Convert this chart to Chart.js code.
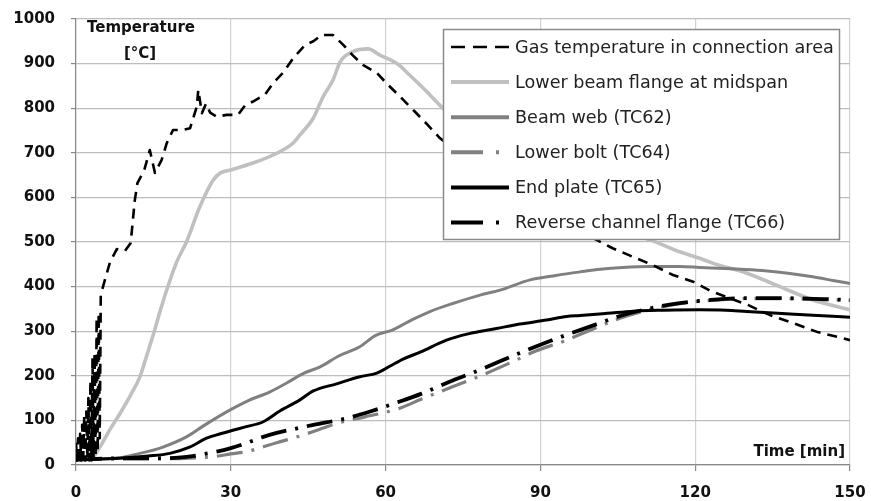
<!DOCTYPE html>
<html>
<head>
<meta charset="utf-8">
<script src="https://cdn.jsdelivr.net/npm/chart.js@4.4.0/dist/chart.umd.min.js"></script>
<style>
  html, body { margin: 0; padding: 0; background: #fff; }
  #wrap { width: 871px; height: 501px; }
</style>
</head>
<body>
<div id="wrap"><canvas id="chart" width="871" height="501"></canvas></div>
<script>
// values (time in min, temperature in °C)
const seriesNames = [
  'Gas temperature in connection area',
  'Lower beam flange at midspan',
  'Beam web (TC62)',
  'Lower bolt (TC64)',
  'End plate (TC65)',
  'Reverse channel flange (TC66)'
];

const xTicks = [0, 30, 60, 90, 120, 150];
const yTicks = [0, 100, 200, 300, 400, 500, 600, 700, 800, 900, 1000];

const gasTime = [0, 0.2, 0.4, 0.6, 0.8, 1.0, 1.2, 1.4, 1.6, 1.8, 2.0, 2.2, 2.4, 2.6, 2.8, 3.0, 3.2, 3.4, 3.6, 3.8, 4.0, 4.2, 4.4, 4.6, 4.8, 5.0,
  5.6, 6.6, 7.9, 9.5, 10.6, 11.4, 11.9, 13.2, 14.3, 15.3, 16.6, 17.6, 18.8, 20.5, 22.1, 23.4, 23.7, 24.4, 25.2, 26, 27.3, 29.2,
  31.4, 32.8, 34.3, 36.6, 38.2, 40.1, 42.1, 44.4, 46, 47.6, 49.8, 51.8, 53.5, 55.6, 58.3, 60.5, 62.8, 65.7, 68.2, 70.5,
  80, 90, 100, 104, 108.7, 111.8, 115.7, 119.6, 123.2, 126.5, 130.2, 134.5, 139, 143.5, 150];
const gasTemp = [50, 10, 60, 5, 70, 10, 90, 15, 110, 10, 120, 15, 150, 10, 190, 10, 240, 15, 250, 20, 330, 30, 340, 60, 380, 390,
  415, 455, 484, 480, 498, 594, 632, 660, 706, 655, 684, 722, 751, 751, 755, 803, 841, 789, 810, 790, 781, 785,
  785, 807, 815, 830, 856, 879, 912, 942, 950, 964, 964, 942, 920, 897, 879, 852, 826, 792, 762, 733,
  650, 575, 510, 486, 463, 448, 426, 411, 389, 375, 359, 336, 318, 299, 280];

const flangeTime = [0, 3, 4.65, 6.6, 8.5, 10.5, 12.4, 13.7, 15, 16.3, 17.6, 19.5, 21.4, 24, 26.6, 28, 29.8, 34.3, 38.9, 42.1,
  43.4, 46, 47.9, 49.8, 51.2, 53.7, 56.6, 58.9, 62.2, 64.7, 68, 71.1, 75, 80, 85, 90, 95, 100, 105, 110, 113, 117, 121,
  123.5, 130, 136.4, 142.8, 150];
const flangeTemp = [15, 15, 41, 80, 115, 155, 198, 245, 293, 345, 393, 455, 500, 579, 639, 655, 661, 677, 699, 722,
  740, 778, 826, 863, 904, 927, 933, 919, 900, 874, 837, 800, 760, 715, 670, 630, 595, 565, 535, 510, 497, 478, 463,
  452, 430, 400, 370, 348];

const webTime = [0, 8.5, 12, 16.3, 21.4, 25, 29.8, 33.5, 37.6, 41, 44, 47.3, 51, 55, 58, 61.4, 65, 68.6, 73, 78.3, 82.2, 88,
  93, 97.7, 101.6, 106, 111.2, 117, 120.9, 127, 133, 138, 142.8, 147, 150];
const webTemp = [12, 16, 25, 38, 63, 90, 123, 145, 164, 185, 205, 220, 245, 265, 290, 303, 325, 344, 362, 381, 392, 415,
  425, 433, 439, 443, 445, 445, 443, 440, 436, 430, 422, 413, 407];

const boltTime = [0, 8.5, 15, 21.4, 26.9, 30, 33, 38.9, 42, 46, 50.5, 56, 62.2, 67, 73.1, 78, 84.7, 89, 94.4, 100, 105.4,
  110, 117, 122, 130, 137, 144.8, 150];
const boltTemp = [12, 14, 14, 15, 19, 25, 30, 50, 60, 75, 93, 108, 125, 148, 176, 198, 232, 255, 277, 304, 329,
  345, 362, 368, 373, 373, 371, 369];

const plateTime = [0, 8.5, 14, 18.2, 22, 25.3, 28, 30.4, 33, 36.3, 39.5, 43.4, 46, 50.5, 55, 58.3, 60.9, 63.5, 66.7, 71.8,
  76, 81.5, 86, 91.2, 95.1, 97.7, 103, 108, 114, 120.9, 126, 130, 136, 142.8, 150];
const plateTemp = [12, 15, 20, 26, 40, 60, 70, 78, 86, 97, 121, 146, 166, 182, 198, 206, 222, 238, 253, 280,
  294, 306, 316, 325, 333, 335, 340, 345, 347, 348, 347, 344, 340, 336, 331];

const channelTime = [0, 8.5, 15, 21.4, 25, 27.3, 30, 33, 36, 38.9, 42, 46, 52.5, 57, 62.2, 67, 73.1, 78, 84.7, 89, 94.4,
  100, 105.4, 110, 117, 123, 130, 137, 144.8, 150];
const channelTemp = [12, 15, 15, 18, 25, 30, 38, 49, 62, 72, 80, 90, 105, 120, 140, 160, 190, 212, 245, 265, 289,
  312, 334, 348, 363, 370, 374, 374, 372, 370];

const pts = (xs, ys) => xs.map((x, i) => ({ x: x, y: ys[i] }));

const FONT = 'DejaVu Sans';

// legend drawn as an opaque box inside the plot, like the original
const boxLegend = {
  id: 'boxLegend',
  afterDraw(chart) {
    const ctx = chart.ctx;
    const bx = 443, by = 29, bw = 397, bh = 211;
    ctx.save();
    ctx.fillStyle = '#ffffff';
    ctx.fillRect(bx, by, bw, bh);
    ctx.strokeStyle = '#8a8a8a';
    ctx.lineWidth = 1.5;
    ctx.strokeRect(bx + 0.5, by + 0.5, bw - 1, bh - 1);
    chart.data.datasets.forEach((ds, i) => {
      const y = by + 18 + i * 35.1;
      ctx.beginPath();
      ctx.setLineDash(ds.legendDash || []);
      ctx.lineCap = 'butt';
      ctx.strokeStyle = ds.borderColor;
      ctx.lineWidth = ds.legendWidth;
      ctx.moveTo(bx + 8, y);
      ctx.lineTo(bx + 66, y);
      ctx.stroke();
      ctx.setLineDash([]);
      ctx.fillStyle = '#222';
      ctx.font = '17.6px "' + FONT + '"';
      ctx.textBaseline = 'middle';
      ctx.textAlign = 'left';
      ctx.fillText(ds.label, bx + 72, y + 1);
    });
    ctx.restore();
  }
};

const axisTitles = {
  id: 'axisTitles',
  afterDraw(chart) {
    const ctx = chart.ctx;
    const a = chart.chartArea;
    ctx.save();
    ctx.fillStyle = '#111';
    ctx.font = 'bold 15px "' + FONT + '"';
    ctx.textBaseline = 'middle';
    ctx.textAlign = 'center';
    ctx.fillText('Temperature', a.left + 65, a.top + 9);
    ctx.fillText('[°C]', a.left + 64, a.top + 35);
    ctx.textAlign = 'right';
    ctx.fillText('Time [min]', a.right - 5, a.bottom - 13);
    ctx.restore();
  }
};

// no extra room for the end labels, the layout padding sets the plot box
const noPad = s => { s.paddingTop = 0; s.paddingBottom = 0; s.paddingLeft = 0; s.paddingRight = 0; };

const dashDot = [26, 9, 3, 9];
const lineStyle = { pointRadius: 0, pointHoverRadius: 0, fill: false, borderCapStyle: 'butt', borderJoinStyle: 'round' };

new Chart(document.getElementById('chart'), {
  type: 'line',
  data: {
    datasets: [
      { ...lineStyle, label: seriesNames[0], data: pts(gasTime, gasTemp), borderColor: '#000000', borderWidth: 2.6,
        borderDash: [10, 7], tension: 0, order: 1, legendDash: [14, 8], legendWidth: 2.6 },
      { ...lineStyle, label: seriesNames[1], data: pts(flangeTime, flangeTemp), borderColor: '#c0c0c0', borderWidth: 3.6,
        cubicInterpolationMode: 'monotone', order: 6, legendWidth: 4 },
      { ...lineStyle, label: seriesNames[2], data: pts(webTime, webTemp), borderColor: '#808080', borderWidth: 3,
        cubicInterpolationMode: 'monotone', order: 5, legendWidth: 4 },
      { ...lineStyle, label: seriesNames[3], data: pts(boltTime, boltTemp), borderColor: '#808080', borderWidth: 3.2,
        borderDash: dashDot, cubicInterpolationMode: 'monotone', order: 4, legendDash: [32, 13, 3, 20], legendWidth: 4 },
      { ...lineStyle, label: seriesNames[4], data: pts(plateTime, plateTemp), borderColor: '#000000', borderWidth: 3,
        cubicInterpolationMode: 'monotone', order: 3, legendWidth: 4 },
      { ...lineStyle, label: seriesNames[5], data: pts(channelTime, channelTemp), borderColor: '#000000', borderWidth: 3.8,
        borderDash: dashDot, cubicInterpolationMode: 'monotone', order: 2, legendDash: [32, 13, 3, 20], legendWidth: 4 }
    ]
  },
  options: {
    responsive: false,
    animation: false,
    events: [],
    layout: { padding: { top: 19, right: 21, left: 0, bottom: 0 } },
    plugins: {
      legend: { display: false },
      tooltip: { enabled: false },
      title: { display: false }
    },
    scales: {
      x: {
        type: 'linear',
        min: xTicks[0],
        max: xTicks[xTicks.length - 1],
        afterBuildTicks: s => { s.ticks = xTicks.map(v => ({ value: v })); },
        afterFit: s => { s.height = 36; noPad(s); },
        ticks: { color: '#111', padding: 13, maxRotation: 0, callback: v => String(v),
          font: { family: FONT, size: 15, weight: 'bold' } },
        grid: { color: '#d2d2d2', lineWidth: 1.2, tickLength: 6, tickColor: '#888' },
        border: { color: '#888', width: 1.2 }
      },
      y: {
        type: 'linear',
        min: yTicks[0],
        max: yTicks[yTicks.length - 1],
        afterBuildTicks: s => { s.ticks = yTicks.map(v => ({ value: v })); },
        afterFit: s => { s.width = 76; noPad(s); },
        ticks: { color: '#111', padding: 16, callback: v => String(v),
          font: { family: FONT, size: 15, weight: 'bold' } },
        grid: { color: '#bdbdbd', lineWidth: 1.2, tickLength: 5, tickColor: '#888' },
        border: { color: '#888', width: 1.2 }
      }
    }
  },
  plugins: [boxLegend, axisTitles]
});
</script>
</body>
</html>
